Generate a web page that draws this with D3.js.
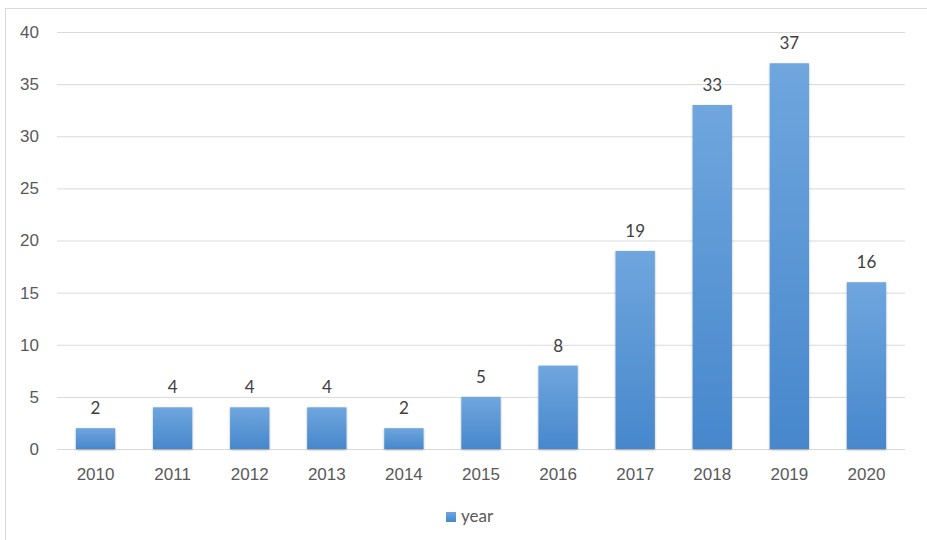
<!DOCTYPE html>
<html>
<head>
<meta charset="utf-8">
<script src="https://cdn.jsdelivr.net/npm/d3@7"></script>
<style>
  html, body { margin: 0; padding: 0; background: #fff; }
  svg { display: block; font-family: Lato, "Open Sans", sans-serif; }
</style>
</head>
<body>
<svg id="chart" width="927" height="540"></svg>
<script>
// Publications per year
const years = ["2010","2011","2012","2013","2014","2015","2016","2017","2018","2019","2020"];
const counts = [2, 4, 4, 4, 2, 5, 8, 19, 33, 37, 16];
const yTicks = [0, 5, 10, 15, 20, 25, 30, 35, 40];
const seriesName = "year";

const svg = d3.select("#chart");
const W = 927, H = 540;
const plot = { left: 57, right: 905, top: 32, bottom: 449 };
const fontSize = 17;

// Chart frame
svg.append("rect")
  .attr("x", 5.5).attr("y", 8.5)
  .attr("width", W + 10).attr("height", H + 10)
  .attr("fill", "#fff").attr("stroke", "#d9d9d9").attr("stroke-width", 1);

const defs = svg.append("defs");
const grad = defs.append("linearGradient")
  .attr("id", "barFill").attr("x1", 0).attr("y1", 0).attr("x2", 0).attr("y2", 1);
grad.append("stop").attr("offset", "0%").attr("stop-color", "#6fa6de");
grad.append("stop").attr("offset", "100%").attr("stop-color", "#4787cc");

const shadow = defs.append("filter").attr("id", "barShadow")
  .attr("x", "-20%").attr("y", "-5%").attr("width", "140%").attr("height", "115%");
shadow.append("feDropShadow")
  .attr("dx", 0).attr("dy", 1).attr("stdDeviation", 1.2)
  .attr("flood-color", "#000").attr("flood-opacity", 0.3);

const x = d3.scaleBand().domain(years).range([plot.left, plot.right]).paddingInner(0.49).paddingOuter(0.245);
const y = d3.scaleLinear().domain([0, 40]).range([plot.bottom, plot.top]);

// Horizontal gridlines
const yAxis = d3.axisLeft(y).tickValues(yTicks).tickSize(-(plot.right - plot.left)).tickPadding(18);
const gy = svg.append("g").attr("transform", `translate(${plot.left},0)`).call(yAxis);
gy.select(".domain").remove();
gy.selectAll(".tick line").attr("stroke", "#d9d9d9").attr("stroke-width", 1);
gy.selectAll(".tick text").attr("fill", "#595959").attr("font-size", fontSize);

// Category labels
const xAxis = d3.axisBottom(x).tickSize(0).tickPadding(19);
const gx = svg.append("g").attr("transform", `translate(0,${plot.bottom})`).call(xAxis);
gx.select(".domain").remove();
gx.selectAll(".tick text").attr("fill", "#595959").attr("font-size", fontSize);

// Bars
svg.append("g").selectAll("rect")
  .data(years.map((yr, i) => ({ yr, v: counts[i] })))
  .join("rect")
  .attr("x", d => x(d.yr))
  .attr("y", d => y(d.v))
  .attr("width", x.bandwidth())
  .attr("height", d => y(0) - y(d.v))
  .attr("fill", "url(#barFill)")
  .attr("filter", "url(#barShadow)");

// Value labels
svg.append("g").selectAll("text")
  .data(years.map((yr, i) => ({ yr, v: counts[i] })))
  .join("text")
  .attr("x", d => x(d.yr) + x.bandwidth() / 2)
  .attr("y", d => y(d.v) - 14)
  .attr("text-anchor", "middle")
  .attr("fill", "#404040")
  .attr("font-size", fontSize)
  .text(d => d.v);

// Legend
const lg = svg.append("g").attr("transform", "translate(446,512)");
lg.append("rect").attr("width", 10).attr("height", 10).attr("fill", "url(#barFill)");
lg.append("text").attr("x", 15).attr("y", 10).attr("fill", "#595959").attr("font-size", fontSize).text(seriesName);
</script>
</body>
</html>
